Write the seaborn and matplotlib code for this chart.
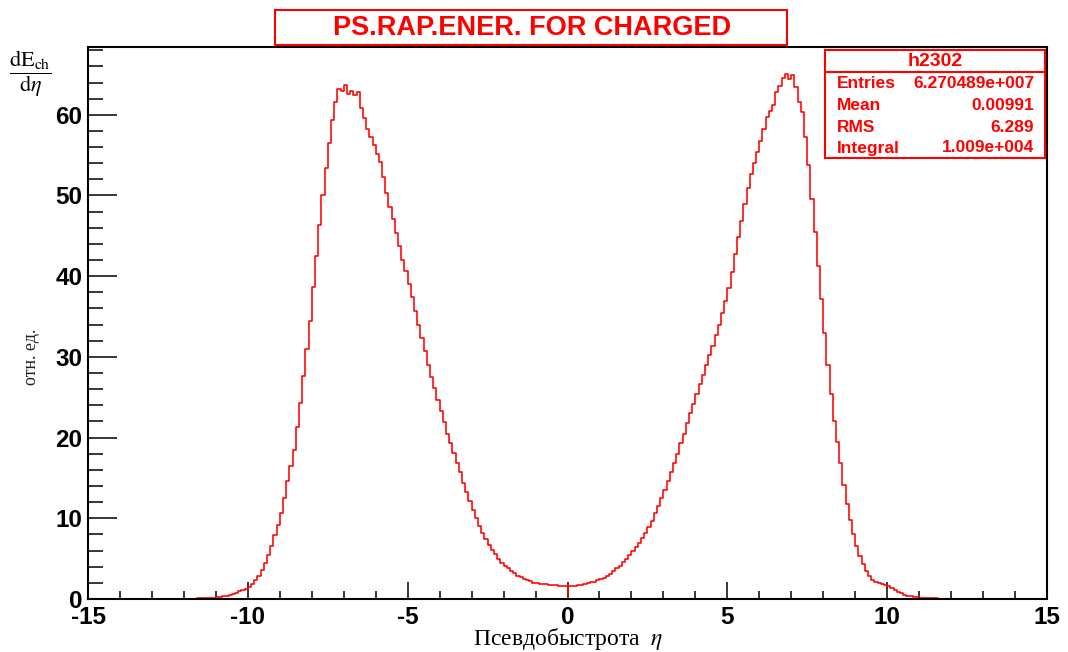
import numpy as np
import pandas as pd
import matplotlib
matplotlib.use("Agg")
import matplotlib.pyplot as plt
from matplotlib.patches import Rectangle
from matplotlib.lines import Line2D
from matplotlib.ticker import MultipleLocator
import seaborn as sns

# Histogram range (pseudorapidity) and per-bin energy flow, 0.1-wide bins
eta_min, eta_max = -12.5, 12.5
de_deta = [
    # -12.5 .. -10.0
    0.01, 0.01, 0.02, 0.02, 0.03, 0.03, 0.04, 0.05, 0.06, 0.07,
    0.08, 0.10, 0.12, 0.15, 0.18, 0.22, 0.27, 0.33, 0.42, 0.52,
    0.64, 0.80, 0.95, 1.10, 1.25,
    # -10 .. -9
    1.5, 1.8, 2.3, 2.8, 3.6, 4.5, 5.5, 6.6, 7.9, 9.2,
    # -9 .. -8
    10.7, 12.5, 14.6, 16.5, 18.5, 21.3, 24.3, 27.6, 31.0, 34.5,
    # -8 .. -7
    38.6, 42.5, 46.3, 50.0, 53.4, 56.5, 59.4, 61.6, 63.2, 63.0,
    # -7 .. -6
    63.7, 62.6, 62.9, 62.4, 62.8, 60.8, 59.6, 58.2, 57.3, 56.2,
    # -6 .. -5
    55.2, 54.2, 52.3, 50.3, 48.6, 47.1, 45.4, 43.8, 42.0, 40.6,
    # -5 .. -4
    39.0, 37.4, 35.7, 34.0, 32.3, 30.7, 29.0, 27.5, 26.1, 24.6,
    # -4 .. -3
    23.3, 21.9, 20.5, 19.3, 18.1, 16.9, 15.7, 14.4, 13.2, 12.1,
    # -3 .. -2
    11.0, 10.0, 9.0, 8.2, 7.4, 6.7, 6.1, 5.6, 5.0, 4.5,
    # -2 .. -1
    4.1, 3.8, 3.5, 3.2, 2.9, 2.7, 2.5, 2.3, 2.2, 2.0,
    # -1 .. 0
    1.95, 1.90, 1.85, 1.80, 1.75, 1.70, 1.68, 1.65, 1.63, 1.62,
    # 0 .. 1
    1.62, 1.63, 1.66, 1.70, 1.78, 1.85, 1.95, 2.05, 2.15, 2.30,
    # 1 .. 2
    2.45, 2.65, 2.85, 3.10, 3.45, 3.80, 4.15, 4.55, 4.95, 5.40,
    # 2 .. 3
    5.9, 6.4, 7.0, 7.6, 8.2, 8.9, 9.7, 10.6, 11.5, 12.5,
    # 3 .. 4
    13.5, 14.6, 15.7, 16.8, 18.0, 19.3, 20.5, 21.8, 23.0, 24.2,
    # 4 .. 5
    25.4, 26.6, 27.8, 29.0, 30.2, 31.4, 32.7, 34.0, 35.4, 36.9,
    # 5 .. 6
    38.5, 40.5, 42.8, 44.8, 46.8, 48.9, 50.9, 52.7, 54.0, 55.4,
    # 6 .. 7
    56.8, 58.3, 59.7, 60.5, 61.2, 62.8, 63.6, 64.6, 65.0, 64.4,
    # 7 .. 8
    64.9, 63.4, 61.6, 60.4, 57.2, 53.8, 49.6, 45.5, 41.3, 37.2,
    # 8 .. 9
    33.0, 29.0, 25.4, 22.1, 19.5, 16.8, 14.1, 11.8, 9.8, 8.1,
    # 9 .. 10
    6.6, 5.3, 4.3, 3.5, 2.9, 2.4, 2.1, 1.95, 1.85, 1.75,
    # 10 .. 11
    1.60, 1.35, 1.10, 0.90, 0.70, 0.55, 0.42, 0.33, 0.26, 0.20,
    # 11 .. 12
    0.16, 0.13, 0.11, 0.09, 0.08, 0.07, 0.06, 0.05, 0.05, 0.04,
    # 12 .. 12.5
    0.04, 0.03, 0.03, 0.02, 0.02,
]

title = "PS.RAP.ENER. FOR CHARGED"
hist_name = "h2302"
stat_names = ["Entries", "Mean", "RMS", "Integral"]
stat_values = ["6.270489e+007", "0.00991", "6.289", "1.009e+004"]
x_label = "Псевдобыстрота"
y_label = "отн. ед."
x_ticks = [-15, -10, -5, 0, 5, 10, 15]
y_ticks = [0, 10, 20, 30, 40, 50, 60]

RED = "#ff0000"
W, H = 1068, 652

sns.set_theme(style="white")
plt.rcParams["font.family"] = ["Liberation Sans", "DejaVu Sans"]
plt.rcParams["mathtext.fontset"] = "stix"
plt.rcParams["axes.unicode_minus"] = False

fig = plt.figure(figsize=(W / 100, H / 100), dpi=100)
fig.patch.set_facecolor("white")


def fx(px):
    return px / W


def fy(py):
    return 1 - py / H


ax = fig.add_axes([fx(88), fy(599), fx(1047) - fx(88), fy(47) - fy(599)])
ax.set_facecolor("white")

n_bins = len(de_deta)
bin_w = (eta_max - eta_min) / n_bins
hist_df = pd.DataFrame({
    "eta": eta_min + bin_w * (np.arange(n_bins) + 0.5),
    "energy": de_deta,
})
sns.histplot(data=hist_df, x="eta", weights="energy", bins=n_bins,
             binrange=(eta_min, eta_max), element="step", fill=False,
             color=RED, linewidth=1.15, ax=ax)

# error marker of the central bin
ax.vlines(0, 0.2, 2.0, color=RED, linewidth=1.15)

ax.set_xlim(-15, 15)
ax.set_ylim(0, 68.4)
ax.set_xticks(x_ticks)
ax.set_yticks(y_ticks)
ax.xaxis.set_minor_locator(MultipleLocator(1))
ax.yaxis.set_minor_locator(MultipleLocator(2))
ax.set_xlabel("")
ax.set_ylabel("")

for s in ax.spines.values():
    s.set_color("black")
    s.set_linewidth(1.5)

ax.tick_params(axis="both", which="both", direction="in", colors="black",
               width=1.1, top=False, right=False, bottom=True, left=True)
ax.tick_params(axis="x", which="major", length=12.2, pad=5)
ax.tick_params(axis="x", which="minor", length=6.1)
ax.tick_params(axis="y", which="major", length=20.9, pad=4)
ax.tick_params(axis="y", which="minor", length=10.8)
for lab in ax.get_xticklabels() + ax.get_yticklabels():
    lab.set_fontsize(17.5)
    lab.set_fontweight("bold")
    lab.set_color("black")

# title box
fig.add_artist(Rectangle((fx(275), fy(45)), fx(787) - fx(275), fy(10) - fy(45),
                         transform=fig.transFigure, facecolor="white",
                         edgecolor=RED, linewidth=1.5))
fig.text(fx(532), fy(28), title, color=RED, fontsize=19.5, fontweight="bold",
         ha="center", va="center")

# statistics box
fig.add_artist(Rectangle((fx(825), fy(158)), fx(1045) - fx(825), fy(50) - fy(158),
                         transform=fig.transFigure, facecolor="white",
                         edgecolor=RED, linewidth=1.5, zorder=5))
fig.add_artist(Line2D([fx(825), fx(1045)], [fy(72), fy(72)],
                      transform=fig.transFigure, color=RED, linewidth=1.5, zorder=6))
fig.text(fx(935), fy(61), hist_name, color=RED, fontsize=14, fontweight="bold",
         ha="center", va="center", zorder=7)
row_y = [83, 105, 127, 148]
for name, val, py in zip(stat_names, stat_values, row_y):
    fig.text(fx(837), fy(py), name, color=RED, fontsize=12.5, fontweight="bold",
             ha="left", va="center", zorder=7)
    fig.text(fx(1034), fy(py), val, color=RED, fontsize=12.5, fontweight="bold",
             ha="right", va="center", zorder=7)

# axis titles
fig.text(fx(30), fy(74), r"$\dfrac{\mathrm{dE_{ch}}}{\mathrm{d}\eta}$",
         fontsize=16, ha="center", va="center", color="black")
fig.text(fx(31), fy(357), y_label, rotation=90, fontsize=13,
         family=["Liberation Serif", "DejaVu Serif"], color="#222222",
         ha="center", va="center")
fig.text(fx(568), fy(639), x_label + r"  $\eta$", fontsize=17,
         family=["Liberation Serif", "DejaVu Serif"], color="black",
         ha="center", va="center")

fig.savefig("out.png", dpi=100, facecolor="white")
